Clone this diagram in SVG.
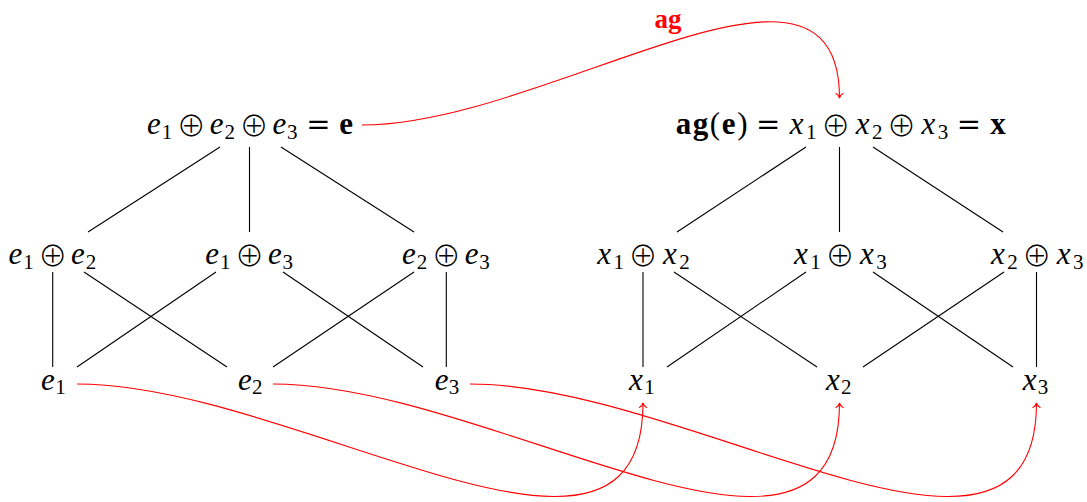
<svg xmlns="http://www.w3.org/2000/svg" width="1087" height="502" viewBox="0 0 1087 502">
<defs>
<style>
text{font-family:'Liberation Serif',serif}
.t{font-size:31px;fill:#000;text-anchor:middle}
.i{font-style:italic}
.s{font-size:21px;font-style:normal}
.o{font-family:'Noto Sans CJK JP','DejaVu Sans',sans-serif;font-weight:300;font-size:29px}
.q{font-family:'DejaVu Serif',serif;font-size:29px}
.b{font-weight:bold}
.e{stroke:#000;stroke-width:1.1;fill:none}
.r{stroke:#f00;stroke-width:1.1;fill:none;marker-end:url(#arr)}
.lbl{font-size:27px;font-weight:bold;fill:#f00;text-anchor:middle}
</style>
<marker id="arr" markerUnits="userSpaceOnUse" viewBox="-6 -5 8 10" markerWidth="8" markerHeight="10" refX="0" refY="0" orient="auto" overflow="visible">
<path d="M-4.5,-3.6 C-3.6,-1.3 -1.2,-0.3 0,0 C-1.2,0.3 -3.6,1.3 -4.5,3.6" stroke="#f00" stroke-width="1.1" fill="none" stroke-linecap="round"/>
</marker>
</defs>
<rect width="1087" height="502" fill="#fff"/>
<g id="connectors">
<g id="lattice-edges">
<path class="e" d="M220,147 L88,232 M249.5,147 L249.5,232 M281,147 L414,232"/>
<path class="e" d="M806,147 L677,232 M839.5,147 L839.5,232 M873,147 L1003,232"/>
<path class="e" d="M52.7,272 L52.7,367 M84,272 L227,367 M216,272 L77,367 M283,272 L423,367 M414,272 L273,367 M446.3,272 L446.3,367"/>
<path class="e" d="M643,272 L643,367 M674,272 L817,367 M806,272 L667,367 M873,272 L1013,367 M1004,272 L863,367 M1036.5,272 L1036.5,367"/>
</g>
<g id="ag-maps">
<path class="r" d="M362,125 C549,125 839.5,-88 839.5,98"/>
<path class="r" d="M77,384 C298,384 643,624 643,403"/>
<path class="r" d="M273,384 C494,384 839.5,624 839.5,403"/>
<path class="r" d="M470,384 C691,384 1036.5,624 1036.5,403"/>
<text class="lbl" x="668" y="28">ag</text>
</g>
</g>
<g id="node-e">
<text class="t"><tspan class="i" x="154" y="134">e</tspan><tspan class="s" x="167" y="138.5">1</tspan><tspan class="o" x="191.3" y="137">⊕</tspan><tspan class="i" x="216.7" y="134">e</tspan><tspan class="s" x="229.7" y="138.5">2</tspan><tspan class="o" x="254" y="137">⊕</tspan><tspan class="i" x="279.3" y="134">e</tspan><tspan class="s" x="292.3" y="138.5">3</tspan><tspan class="q" x="318.3" y="134">=</tspan><tspan class="b" x="346.2" y="134">e</tspan></text>
</g>
<g id="node-x">
<text class="t"><tspan class="b" x="683.4" y="134">a</tspan><tspan class="b" x="700.4" y="134">g</tspan><tspan x="714.9" y="134">(</tspan><tspan class="b" x="728.6" y="134">e</tspan><tspan x="742.4" y="134">)</tspan><tspan class="q" x="768.2" y="134">=</tspan><tspan class="i" x="796.7" y="134">x</tspan><tspan class="s" x="811.3" y="138.5">1</tspan><tspan class="o" x="835.7" y="137">⊕</tspan><tspan class="i" x="862.6" y="134">x</tspan><tspan class="s" x="877.2" y="138.5">2</tspan><tspan class="o" x="901.6" y="137">⊕</tspan><tspan class="i" x="928.5" y="134">x</tspan><tspan class="s" x="943.1" y="138.5">3</tspan><tspan class="q" x="969" y="134">=</tspan><tspan class="b" x="998.1" y="134">x</tspan></text>
</g>
<g id="node-e1e2">
<text class="t"><tspan class="i" x="15.4" y="264">e</tspan><tspan class="s" x="28.4" y="268.5">1</tspan><tspan class="o" x="52.7" y="267">⊕</tspan><tspan class="i" x="78" y="264">e</tspan><tspan class="s" x="91" y="268.5">2</tspan></text>
</g>
<g id="node-e1e3">
<text class="t"><tspan class="i" x="212.2" y="264">e</tspan><tspan class="s" x="225.2" y="268.5">1</tspan><tspan class="o" x="249.5" y="267">⊕</tspan><tspan class="i" x="274.8" y="264">e</tspan><tspan class="s" x="287.8" y="268.5">3</tspan></text>
</g>
<g id="node-e2e3">
<text class="t"><tspan class="i" x="409" y="264">e</tspan><tspan class="s" x="422" y="268.5">2</tspan><tspan class="o" x="446.3" y="267">⊕</tspan><tspan class="i" x="471.6" y="264">e</tspan><tspan class="s" x="484.6" y="268.5">3</tspan></text>
</g>
<g id="node-x1x2">
<text class="t"><tspan class="i" x="604.2" y="264">x</tspan><tspan class="s" x="618.8" y="268.5">1</tspan><tspan class="o" x="643.1" y="267">⊕</tspan><tspan class="i" x="670" y="264">x</tspan><tspan class="s" x="684.6" y="268.5">2</tspan></text>
</g>
<g id="node-x1x3">
<text class="t"><tspan class="i" x="801" y="264">x</tspan><tspan class="s" x="815.6" y="268.5">1</tspan><tspan class="o" x="839.9" y="267">⊕</tspan><tspan class="i" x="866.9" y="264">x</tspan><tspan class="s" x="881.5" y="268.5">3</tspan></text>
</g>
<g id="node-x2x3">
<text class="t"><tspan class="i" x="997.8" y="264">x</tspan><tspan class="s" x="1012.4" y="268.5">2</tspan><tspan class="o" x="1036.7" y="267">⊕</tspan><tspan class="i" x="1063.7" y="264">x</tspan><tspan class="s" x="1078.3" y="268.5">3</tspan></text>
</g>
<g id="node-e1"><text class="t"><tspan class="i" x="48" y="389.5">e</tspan><tspan class="s" x="60.5" y="394">1</tspan></text></g>
<g id="node-e2"><text class="t"><tspan class="i" x="244.8" y="389.5">e</tspan><tspan class="s" x="257.3" y="394">2</tspan></text></g>
<g id="node-e3"><text class="t"><tspan class="i" x="441.6" y="389.5">e</tspan><tspan class="s" x="454.1" y="394">3</tspan></text></g>
<g id="node-x1"><text class="t"><tspan class="i" x="636" y="389.5">x</tspan><tspan class="s" x="649.5" y="394">1</tspan></text></g>
<g id="node-x2"><text class="t"><tspan class="i" x="832.8" y="389.5">x</tspan><tspan class="s" x="846.3" y="394">2</tspan></text></g>
<g id="node-x3"><text class="t"><tspan class="i" x="1029.6" y="389.5">x</tspan><tspan class="s" x="1043.1" y="394">3</tspan></text></g>
</svg>
